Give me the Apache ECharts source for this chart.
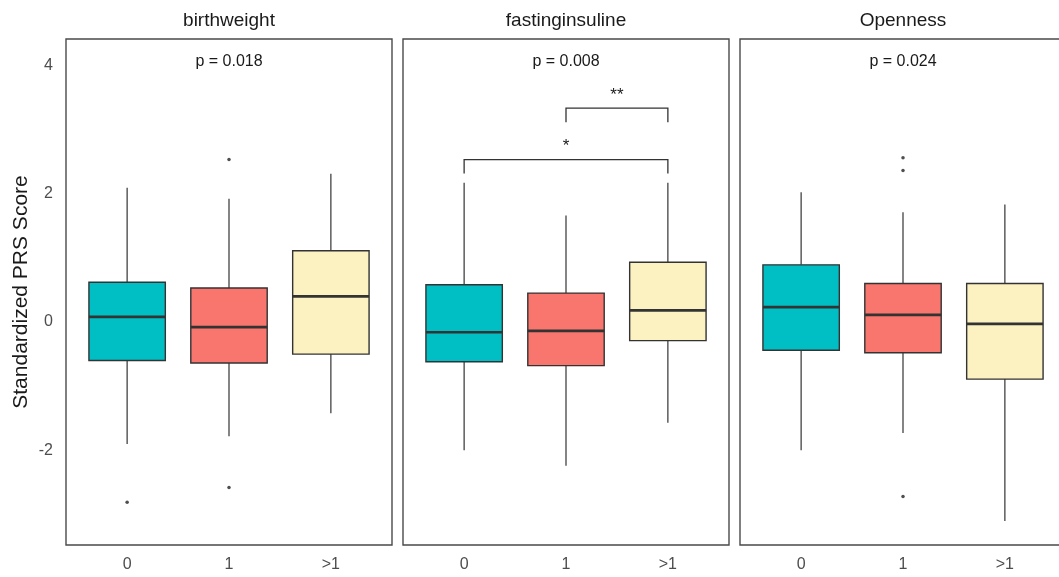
<!DOCTYPE html>
<html>
<head>
<meta charset="utf-8">
<script src="https://cdn.jsdelivr.net/npm/echarts@6/dist/echarts.min.js"></script>
<style>
  html, body { margin: 0; padding: 0; background: #fff; overflow: hidden; }
  #chart { width: 1066px; height: 577px; }
</style>
</head>
<body>
<div id="chart"></div>
<script>
// Groups on the x axis
const categories = ['0', '1', '>1'];
// Facet titles
const panels = ['birthweight', 'fastinginsuline', 'Openness'];
// Kruskal-Wallis p-value per facet
const pValues = ['p = 0.018', 'p = 0.008', 'p = 0.024'];
const pLabelY = 4.05;

// Box summaries per group: [lower whisker, Q1, median, Q3, upper whisker]
const birthweightBoxes = [
  [-1.90, -0.60, 0.08, 0.62, 2.09],
  [-1.78, -0.64, -0.08, 0.53, 1.92],
  [-1.42, -0.50, 0.40, 1.11, 2.31]
];
const insulinBoxes = [
  [-2.00, -0.62, -0.16, 0.58, 2.17],
  [-2.24, -0.68, -0.14, 0.45, 1.66],
  [-1.57, -0.29, 0.18, 0.93, 2.17]
];
const opennessBoxes = [
  [-2.00, -0.44, 0.23, 0.89, 2.02],
  [-1.73, -0.48, 0.11, 0.60, 1.71],
  [-3.10, -0.89, -0.03, 0.60, 1.83]
];

// Outliers: [group index, value]
const birthweightOutliers = [[0, -2.81], [1, 2.53], [1, -2.58]];
const insulinOutliers = [];
const opennessOutliers = [[1, 2.56], [1, 2.36], [1, -2.72]];

// Pairwise comparisons drawn on the fastinginsuline facet
const insulinBrackets = [
  { from: 0, to: 2, y: 2.53, label: '*' },
  { from: 1, to: 2, y: 3.33, label: '**' }
];

// Y axis range and labelled ticks
const yMin = -3.474;
const yMax = 4.408;
const yTicks = [-2, 0, 2, 4];

const boxColors = ['#00BFC4', '#F8766D', '#FCF1C0'];
const ink = '#333333';
const FONT = '"Liberation Sans", Arial, sans-serif';
const BOX_WIDTH = 0.75;

// Facet layout (the last facet runs slightly past the right edge of the window)
const gridLeft = [66, 403, 740];
const gridWidth = 326;
const gridTop = 39;
const gridHeight = 506;

const boxSets = [birthweightBoxes, insulinBoxes, opennessBoxes];
const outlierSets = [birthweightOutliers, insulinOutliers, opennessOutliers];

function renderBox(params, api) {
  const x = api.value(0);
  const lo = api.coord([x, api.value(1)]);
  const q1 = api.coord([x, api.value(2)]);
  const med = api.coord([x, api.value(3)]);
  const q3 = api.coord([x, api.value(4)]);
  const hi = api.coord([x, api.value(5)]);
  const half = api.size([BOX_WIDTH, 0])[0] / 2;
  const fill = boxColors[params.dataIndex];
  return {
    type: 'group',
    children: [
      { type: 'line', shape: { x1: hi[0], y1: hi[1], x2: q3[0], y2: q3[1] },
        style: { stroke: ink, lineWidth: 1.2 } },
      { type: 'line', shape: { x1: q1[0], y1: q1[1], x2: lo[0], y2: lo[1] },
        style: { stroke: ink, lineWidth: 1.2 } },
      { type: 'rect', shape: { x: q3[0] - half, y: q3[1], width: half * 2, height: q1[1] - q3[1] },
        style: { fill: fill, stroke: ink, lineWidth: 1.4 } },
      { type: 'line', shape: { x1: med[0] - half, y1: med[1], x2: med[0] + half, y2: med[1] },
        style: { stroke: ink, lineWidth: 2.7 } }
    ]
  };
}

function renderBracket(params, api) {
  const b = insulinBrackets[params.dataIndex];
  const a = api.coord([b.from + 1, b.y]);
  const c = api.coord([b.to + 1, b.y]);
  const tip = 14;
  return {
    type: 'group',
    children: [
      { type: 'polyline',
        shape: { points: [[a[0], a[1] + tip], [a[0], a[1]], [c[0], c[1]], [c[0], c[1] + tip]] },
        style: { stroke: ink, lineWidth: 1.3, fill: null } },
      { type: 'text', x: (a[0] + c[0]) / 2, y: a[1] - 13,
        style: { text: b.label, fill: '#1a1a1a', font: '17px ' + FONT,
          align: 'center', verticalAlign: 'middle' } }
    ]
  };
}

const grids = panels.map((_, i) => ({
  left: gridLeft[i], top: gridTop, width: gridWidth, height: gridHeight,
  show: true, borderColor: '#4a4a4a', borderWidth: 1.4, backgroundColor: 'transparent'
}));

const xAxes = panels.map((_, i) => ({
  type: 'value', gridIndex: i, min: 0.4, max: 3.6,
  axisLine: { show: false }, axisTick: { show: false }, splitLine: { show: false },
  axisLabel: {
    customValues: [1, 2, 3],
    formatter: (v) => categories[Math.round(v) - 1],
    color: '#4d4d4d', fontSize: 16, fontFamily: FONT, margin: 12
  }
}));

const yAxes = panels.map((_, i) => ({
  type: 'value', gridIndex: i, min: yMin, max: yMax,
  name: i === 0 ? 'Standardized PRS Score' : '',
  nameLocation: 'middle', nameGap: 34,
  nameTextStyle: { color: '#1a1a1a', fontSize: 21, fontFamily: FONT },
  axisLine: { show: false }, axisTick: { show: false }, splitLine: { show: false },
  axisLabel: {
    show: i === 0,
    customValues: yTicks,
    color: '#4d4d4d', fontSize: 16, fontFamily: FONT, margin: 13
  }
}));

const series = [];
panels.forEach((_, i) => {
  series.push({
    type: 'custom', xAxisIndex: i, yAxisIndex: i,
    renderItem: renderBox,
    encode: { x: 0, y: [1, 2, 3, 4, 5] },
    data: boxSets[i].map((b, k) => [k + 1].concat(b))
  });
  series.push({
    type: 'scatter', xAxisIndex: i, yAxisIndex: i,
    symbolSize: 3.5, itemStyle: { color: '#222' },
    data: outlierSets[i].map(o => [o[0] + 1, o[1]])
  });
  series.push({
    type: 'custom', xAxisIndex: i, yAxisIndex: i,
    renderItem: (params, api) => {
      const p = api.coord([api.value(0), api.value(1)]);
      return {
        type: 'text', x: p[0], y: p[1],
        style: { text: pValues[i], fill: '#1a1a1a', font: '16px ' + FONT,
          align: 'center', verticalAlign: 'middle' }
      };
    },
    data: [[2, pLabelY]]
  });
});
series.push({
  type: 'custom', xAxisIndex: 1, yAxisIndex: 1,
  renderItem: renderBracket,
  encode: { x: [0, 1], y: 2 },
  data: insulinBrackets.map(b => [b.from + 1, b.to + 1, b.y])
});

const titles = panels.map((name, i) => ({
  text: name,
  left: gridLeft[i] + gridWidth / 2,
  top: 11,
  textAlign: 'center',
  padding: 0,
  textStyle: { color: '#1a1a1a', fontSize: 19, fontWeight: 'normal', fontFamily: FONT }
}));

const chart = echarts.init(document.getElementById('chart'), null, { renderer: 'canvas' });
chart.setOption({
  animation: false,
  backgroundColor: '#fff',
  title: titles,
  grid: grids,
  xAxis: xAxes,
  yAxis: yAxes,
  series: series
});
</script>
</body>
</html>
